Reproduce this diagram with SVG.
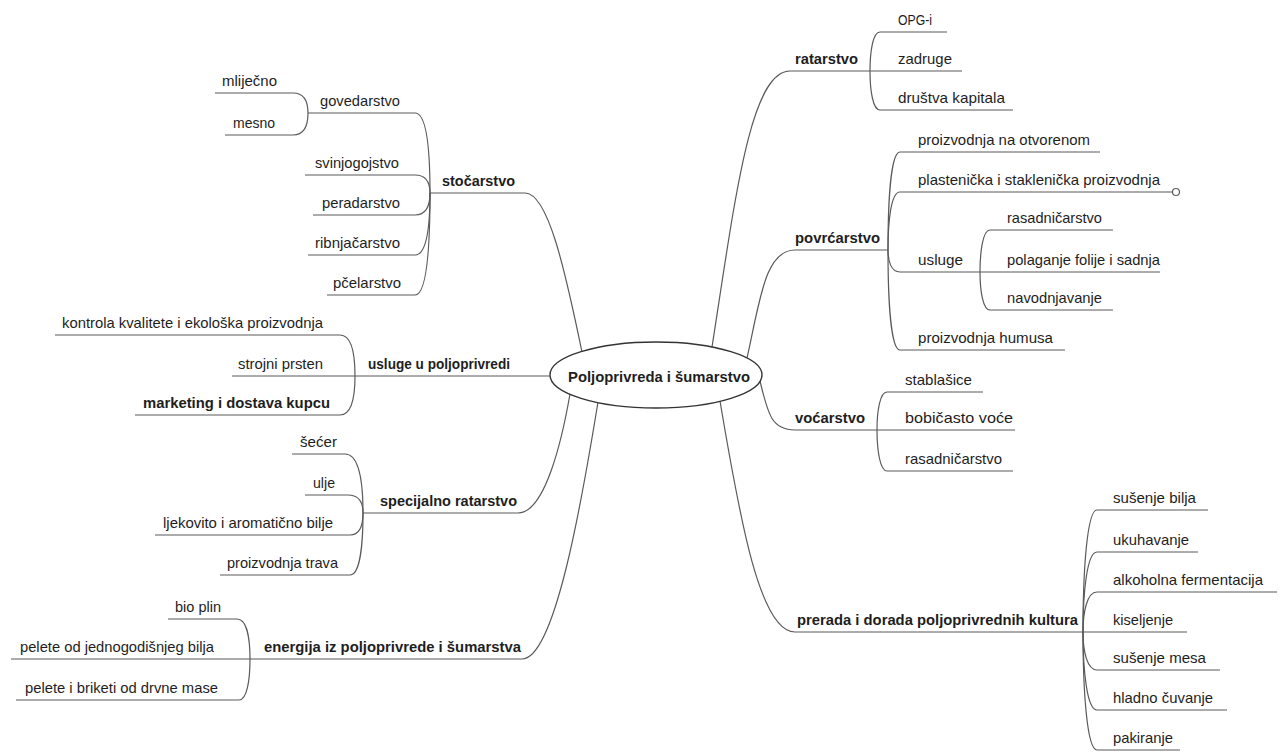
<svg xmlns="http://www.w3.org/2000/svg" width="1285" height="752" viewBox="0 0 1285 752">
<style>
.t{font-family:"Liberation Sans",Arial,sans-serif;font-size:15px;fill:#1e1e1e;}
.b{font-weight:bold;}
.ul{stroke:#5a5a5a;stroke-width:1.2;fill:none;}
.c path{stroke:#5a5a5a;stroke-width:1.2;fill:none;}
</style>
<rect width="1285" height="752" fill="#fff"/>
<g class="c" id="connectors">
<path d="M582,352 C565,270 548,193 525,193"/>
<path d="M570,394 C562,440 545,513 518,513"/>
<path d="M598,402 C582,500 555,659 522,659"/>
<path d="M712,347 C735,200 750,71 790,71"/>
<path d="M747,358 C760,300 765,250 795,250"/>
<path d="M760,381 C768,415 772,430 795,430"/>
<path d="M720,401 C740,520 760,632 795,632"/>
<path d="M415,113 C427,113 430,153 430,193"/>
<path d="M415,175 C427,175 430,184 430,193"/>
<path d="M415,215 C427,215 430,204 430,193"/>
<path d="M415,255 C427,255 430,224 430,193"/>
<path d="M415,295 C427,295 430,244 430,193"/>
<path d="M293,93 C305,93 308,103 308,113"/>
<path d="M293,135 C305,135 308,124 308,113"/>
<path d="M340,335 C352,335 355,355 355,376"/>
<path d="M340,415 C352,415 355,395 355,376"/>
<path d="M345,454 C360,454 363,483 363,513"/>
<path d="M348,495 C360,495 363,504 363,513"/>
<path d="M350,535 C360,535 363,524 363,513"/>
<path d="M350,575 C360,575 363,544 363,513"/>
<path d="M237,619 C247,619 250,639 250,659"/>
<path d="M239,700 C247,700 250,680 250,659"/>
<path d="M870,71 C870,51 873,32 880,32"/>
<path d="M870,71 C870,91 873,110 880,110"/>
<path d="M888,250 C888,201 891,152 900,152"/>
<path d="M888,250 C888,221 891,192 900,192"/>
<path d="M888,250 C888,261 891,272 900,272"/>
<path d="M888,250 C888,300 891,350 900,350"/>
<path d="M980,272 C980,251 983,230 990,230"/>
<path d="M980,272 C980,291 983,310 990,310"/>
<path d="M877,430 C877,411 880,392 887,392"/>
<path d="M877,430 C877,450 880,471 887,471"/>
<path d="M1083,632 C1083,571 1087,510 1097,510"/>
<path d="M1083,632 C1083,592 1087,552 1097,552"/>
<path d="M1083,632 C1083,612 1087,592 1097,592"/>
<path d="M1083,632 C1083,651 1087,670 1097,670"/>
<path d="M1083,632 C1083,671 1087,710 1097,710"/>
<path d="M1083,632 C1083,691 1087,750 1097,750"/>
</g>
<g id="center">
<ellipse cx="656" cy="375" rx="106" ry="33" fill="#fff" stroke="#333" stroke-width="1.4"/>
<text class="t b" x="568" y="382" textLength="182" lengthAdjust="spacingAndGlyphs">Poljoprivreda i šumarstvo</text>
</g>
<g id="n-stocarstvo"><line class="ul" x1="430" y1="193" x2="525" y2="193"/><text class="t b" x="442" y="186" textLength="73" lengthAdjust="spacingAndGlyphs">stočarstvo</text></g>
<g id="n-govedarstvo"><line class="ul" x1="308" y1="113" x2="415" y2="113"/><text class="t" x="320" y="106" textLength="80" lengthAdjust="spacingAndGlyphs">govedarstvo</text></g>
<g id="n-mlijecno"><line class="ul" x1="215" y1="93" x2="293" y2="93"/><text class="t" x="222" y="86" textLength="55" lengthAdjust="spacingAndGlyphs">mliječno</text></g>
<g id="n-mesno"><line class="ul" x1="225" y1="135" x2="293" y2="135"/><text class="t" x="233" y="128" textLength="42" lengthAdjust="spacingAndGlyphs">mesno</text></g>
<g id="n-svinjogojstvo"><line class="ul" x1="305" y1="175" x2="415" y2="175"/><text class="t" x="315" y="168" textLength="84" lengthAdjust="spacingAndGlyphs">svinjogojstvo</text></g>
<g id="n-peradarstvo"><line class="ul" x1="313" y1="215" x2="415" y2="215"/><text class="t" x="322" y="208" textLength="78" lengthAdjust="spacingAndGlyphs">peradarstvo</text></g>
<g id="n-ribnjacarstvo"><line class="ul" x1="308" y1="255" x2="415" y2="255"/><text class="t" x="315" y="248" textLength="85" lengthAdjust="spacingAndGlyphs">ribnjačarstvo</text></g>
<g id="n-pcelarstvo"><line class="ul" x1="327" y1="295" x2="415" y2="295"/><text class="t" x="333" y="288" textLength="68" lengthAdjust="spacingAndGlyphs">pčelarstvo</text></g>
<g id="n-usluge-u-poljoprivredi"><line class="ul" x1="355" y1="376" x2="550" y2="376"/><text class="t b" x="368" y="369" textLength="142" lengthAdjust="spacingAndGlyphs">usluge u poljoprivredi</text></g>
<g id="n-kontrola"><line class="ul" x1="55" y1="335" x2="340" y2="335"/><text class="t" x="62" y="328" textLength="261" lengthAdjust="spacingAndGlyphs">kontrola kvalitete i ekološka proizvodnja</text></g>
<g id="n-strojni"><line class="ul" x1="232" y1="376" x2="355" y2="376"/><text class="t" x="238" y="369" textLength="85" lengthAdjust="spacingAndGlyphs">strojni prsten</text></g>
<g id="n-marketing"><line class="ul" x1="135" y1="415" x2="340" y2="415"/><text class="t b" x="143" y="408" textLength="187" lengthAdjust="spacingAndGlyphs">marketing i dostava kupcu</text></g>
<g id="n-specijalno"><line class="ul" x1="363" y1="513" x2="518" y2="513"/><text class="t b" x="380" y="506" textLength="137" lengthAdjust="spacingAndGlyphs">specijalno ratarstvo</text></g>
<g id="n-secer"><line class="ul" x1="292" y1="454" x2="345" y2="454"/><text class="t" x="300" y="447" textLength="37" lengthAdjust="spacingAndGlyphs">šećer</text></g>
<g id="n-ulje"><line class="ul" x1="305" y1="495" x2="348" y2="495"/><text class="t" x="313" y="488" textLength="22" lengthAdjust="spacingAndGlyphs">ulje</text></g>
<g id="n-ljekovito"><line class="ul" x1="155" y1="535" x2="350" y2="535"/><text class="t" x="163" y="528" textLength="170" lengthAdjust="spacingAndGlyphs">ljekovito i aromatično bilje</text></g>
<g id="n-trava"><line class="ul" x1="220" y1="575" x2="350" y2="575"/><text class="t" x="227" y="568" textLength="111" lengthAdjust="spacingAndGlyphs">proizvodnja trava</text></g>
<g id="n-energija"><line class="ul" x1="250" y1="659" x2="522" y2="659"/><text class="t b" x="264" y="652" textLength="257" lengthAdjust="spacingAndGlyphs">energija iz poljoprivrede i šumarstva</text></g>
<g id="n-bioplin"><line class="ul" x1="168" y1="619" x2="237" y2="619"/><text class="t" x="175" y="612" textLength="46" lengthAdjust="spacingAndGlyphs">bio plin</text></g>
<g id="n-pelete1"><line class="ul" x1="11" y1="659" x2="250" y2="659"/><text class="t" x="20" y="652" textLength="194" lengthAdjust="spacingAndGlyphs">pelete od jednogodišnjeg bilja</text></g>
<g id="n-pelete2"><line class="ul" x1="16" y1="700" x2="239" y2="700"/><text class="t" x="25" y="693" textLength="193" lengthAdjust="spacingAndGlyphs">pelete i briketi od drvne mase</text></g>
<g id="n-ratarstvo"><line class="ul" x1="790" y1="71" x2="870" y2="71"/><text class="t b" x="795" y="64" textLength="63" lengthAdjust="spacingAndGlyphs">ratarstvo</text></g>
<g id="n-opg"><line class="ul" x1="880" y1="32" x2="947" y2="32"/><text class="t" x="898" y="25" textLength="34" lengthAdjust="spacingAndGlyphs">OPG-i</text></g>
<g id="n-zadruge"><line class="ul" x1="870" y1="71" x2="962" y2="71"/><text class="t" x="898" y="64" textLength="54" lengthAdjust="spacingAndGlyphs">zadruge</text></g>
<g id="n-drustva"><line class="ul" x1="880" y1="110" x2="1013" y2="110"/><text class="t" x="898" y="103" textLength="107" lengthAdjust="spacingAndGlyphs">društva kapitala</text></g>
<g id="n-povrcarstvo"><line class="ul" x1="795" y1="250" x2="888" y2="250"/><text class="t b" x="795" y="243" textLength="85" lengthAdjust="spacingAndGlyphs">povrćarstvo</text></g>
<g id="n-otvorenom"><line class="ul" x1="900" y1="152" x2="1100" y2="152"/><text class="t" x="918" y="145" textLength="172" lengthAdjust="spacingAndGlyphs">proizvodnja na otvorenom</text></g>
<g id="n-plastenicka"><line class="ul" x1="900" y1="192" x2="1172" y2="192"/><circle cx="1176" cy="192" r="3.5" fill="#fff" stroke="#5a5a5a" stroke-width="1.2"/><text class="t" x="918" y="185" textLength="242" lengthAdjust="spacingAndGlyphs">plastenička i staklenička proizvodnja</text></g>
<g id="n-usluge"><line class="ul" x1="900" y1="272" x2="980" y2="272"/><text class="t" x="918" y="265" textLength="45" lengthAdjust="spacingAndGlyphs">usluge</text></g>
<g id="n-rasadnicarstvo1"><line class="ul" x1="990" y1="230" x2="1113" y2="230"/><text class="t" x="1007" y="223" textLength="95" lengthAdjust="spacingAndGlyphs">rasadničarstvo</text></g>
<g id="n-polaganje"><line class="ul" x1="980" y1="272" x2="1160" y2="272"/><text class="t" x="1007" y="265" textLength="153" lengthAdjust="spacingAndGlyphs">polaganje folije i sadnja</text></g>
<g id="n-navodnjavanje"><line class="ul" x1="990" y1="310" x2="1113" y2="310"/><text class="t" x="1007" y="303" textLength="95" lengthAdjust="spacingAndGlyphs">navodnjavanje</text></g>
<g id="n-humusa"><line class="ul" x1="900" y1="350" x2="1065" y2="350"/><text class="t" x="918" y="343" textLength="135" lengthAdjust="spacingAndGlyphs">proizvodnja humusa</text></g>
<g id="n-vocarstvo"><line class="ul" x1="795" y1="430" x2="877" y2="430"/><text class="t b" x="795" y="423" textLength="70" lengthAdjust="spacingAndGlyphs">voćarstvo</text></g>
<g id="n-stablasice"><line class="ul" x1="887" y1="392" x2="983" y2="392"/><text class="t" x="905" y="385" textLength="67" lengthAdjust="spacingAndGlyphs">stablašice</text></g>
<g id="n-bobicasto"><line class="ul" x1="877" y1="430" x2="1015" y2="430"/><text class="t" x="905" y="423" textLength="108" lengthAdjust="spacingAndGlyphs">bobičasto voće</text></g>
<g id="n-rasadnicarstvo2"><line class="ul" x1="887" y1="471" x2="1013" y2="471"/><text class="t" x="905" y="464" textLength="97" lengthAdjust="spacingAndGlyphs">rasadničarstvo</text></g>
<g id="n-prerada"><line class="ul" x1="795" y1="632" x2="1083" y2="632"/><text class="t b" x="797" y="625" textLength="281" lengthAdjust="spacingAndGlyphs">prerada i dorada poljoprivrednih kultura</text></g>
<g id="n-susenje-bilja"><line class="ul" x1="1097" y1="510" x2="1208" y2="510"/><text class="t" x="1113" y="503" textLength="83" lengthAdjust="spacingAndGlyphs">sušenje bilja</text></g>
<g id="n-ukuhavanje"><line class="ul" x1="1097" y1="552" x2="1198" y2="552"/><text class="t" x="1113" y="545" textLength="76" lengthAdjust="spacingAndGlyphs">ukuhavanje</text></g>
<g id="n-alkoholna"><line class="ul" x1="1097" y1="592" x2="1277" y2="592"/><text class="t" x="1113" y="585" textLength="150" lengthAdjust="spacingAndGlyphs">alkoholna fermentacija</text></g>
<g id="n-kiseljenje"><line class="ul" x1="1083" y1="632" x2="1187" y2="632"/><text class="t" x="1113" y="625" textLength="60" lengthAdjust="spacingAndGlyphs">kiseljenje</text></g>
<g id="n-susenje-mesa"><line class="ul" x1="1097" y1="670" x2="1220" y2="670"/><text class="t" x="1113" y="663" textLength="93" lengthAdjust="spacingAndGlyphs">sušenje mesa</text></g>
<g id="n-hladno"><line class="ul" x1="1097" y1="710" x2="1227" y2="710"/><text class="t" x="1113" y="703" textLength="100" lengthAdjust="spacingAndGlyphs">hladno čuvanje</text></g>
<g id="n-pakiranje"><line class="ul" x1="1097" y1="750" x2="1180" y2="750"/><text class="t" x="1113" y="743" textLength="60" lengthAdjust="spacingAndGlyphs">pakiranje</text></g>
</svg>
